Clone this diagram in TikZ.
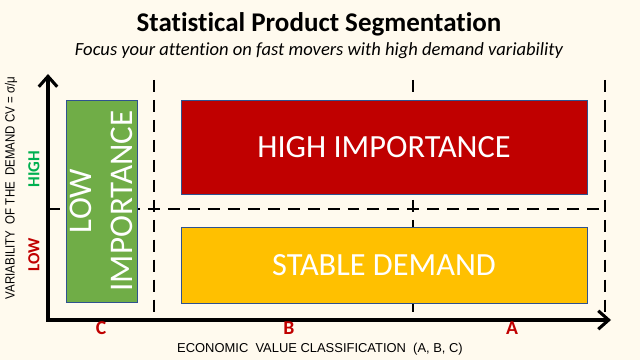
\documentclass[tikz,border=0pt]{standalone}
\usepackage{fontspec}
\setmainfont{Carlito}[Ligatures={NoCommon,NoContextual}]
\newfontfamily\axisfont{Liberation Sans}
\usetikzlibrary{arrows.meta}
\definecolor{cream}{RGB}{255,250,238}
\definecolor{lowgreen}{RGB}{112,173,71}
\definecolor{highred}{RGB}{192,0,0}
\definecolor{stableyellow}{RGB}{255,192,0}
\definecolor{boxblue}{RGB}{47,82,143}
\definecolor{highgreen}{RGB}{0,176,80}
\tikzset{
  segbox/.style={draw=boxblue, line width=0.6pt, text=white, align=center, inner sep=0pt},
  axisline/.style={line width=2.2pt, {Straight Barb[length=2.6mm, width=4.6mm, line width=2.2pt]}-{Straight Barb[length=2.6mm, width=4.6mm, line width=2.2pt]}},
  gridline/.style={line width=2.1pt, dash pattern=on 8.5pt off 5.7pt},
  classlabel/.style={text=highred, font=\bfseries\fontsize{14}{16}\selectfont},
}
\begin{document}
\begin{tikzpicture}[x=0.025cm, y=-0.025cm]
  % Background
  \fill[cream] (0,0) rectangle (640,360);
  \useasboundingbox (0,0) rectangle (640,360);

  % Titles
  \node (title) at (319,24) {\bfseries\fontsize{19.2}{21}\selectfont Statistical Product Segmentation};
  \node (subtitle) at (319,51) {\itshape\fontsize{13.2}{15}\selectfont Focus your attention on fast movers with high demand variability};

  % Axis corner points
  \coordinate (ytop) at (48,74);
  \coordinate (origin) at (48,320);
  \coordinate (xend) at (611,320);

  % Dashed grid lines
  \coordinate (cb top) at (154,80);
  \coordinate (cb bot) at (154,320);
  \coordinate (ba top) at (413,80);
  \coordinate (ba bot) at (413,320);
  \coordinate (a top) at (605,80);
  \coordinate (a bot) at (605,320);
  \coordinate (mid left) at (48,209);
  \coordinate (mid right) at (605,209);
  \draw[gridline] (cb top) -- (cb bot);
  \draw[gridline] (ba top) -- (ba bot);
  \draw[gridline] (a top) -- (a bot);
  \draw[gridline] (mid left) -- (mid right);

  % Segment boxes
  \node[segbox, fill=lowgreen, minimum width=1.775cm, minimum height=5.05cm] (low) at (101.5,201) {};
  \node[rotate=90, text=white, align=center, font=\fontsize{23.5}{29}\selectfont] (lowtext) at (low.center) {LOW\\IMPORTANCE};
  \node[segbox, fill=highred, minimum width=10.15cm, minimum height=2.35cm, font=\fontsize{23}{25}\selectfont] (high) at (384,147) {HIGH IMPORTANCE};
  \node[segbox, fill=stableyellow, minimum width=10.15cm, minimum height=1.9cm, font=\fontsize{23}{25}\selectfont] (stable) at (384,265) {STABLE DEMAND};

  % Axes
  \draw[axisline] (ytop) -- (origin) -- (xend);

  % Axis labels
  \node[classlabel] (c) at (101,328) {C};
  \node[classlabel] (b) at (289,328) {B};
  \node[classlabel] (a) at (512,328) {A};
  \node[font=\axisfont\fontsize{9.2}{11}\selectfont] (xlabel) at (320,349) {ECONOMIC\ \ VALUE CLASSIFICATION\ \ (A, B, C)};
  \node[rotate=90, xscale=0.86, font=\axisfont\fontsize{9.5}{11}\selectfont] (ylabel) at (11,188) {VARIABILITY\ \ OF THE\ \ DEMAND CV = σ/μ};
  \node[rotate=90, text=highgreen, font=\bfseries\fontsize{12}{14}\selectfont] (highlbl) at (34,169) {HIGH};
  \node[rotate=90, text=highred, font=\bfseries\fontsize{12}{14}\selectfont] (lowlbl) at (34,255) {LOW};
\end{tikzpicture}
\end{document}
